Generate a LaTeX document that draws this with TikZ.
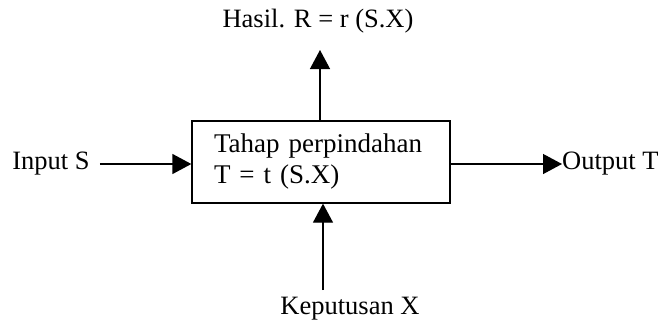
\documentclass[tikz,border=0pt]{standalone}
\usepackage{fontspec}
\setmainfont{Liberation Serif}
\usetikzlibrary{arrows.meta}
\begin{document}
\begin{tikzpicture}[x=1pt,y=-1pt,
  lbl/.style={font=\fontsize{26.5}{30}\selectfont, inner sep=0pt},
  conn/.style={line width=1.3pt, -{Triangle[length=19pt,width=20pt]}},
  procbox/.style={draw, line width=1.3pt, minimum width=258pt, minimum height=82pt,
    text width=214pt, align=left, inner xsep=22pt, font=\fontsize{27}{31}\selectfont}]
\useasboundingbox (0,0) rectangle (663,327);
\node[procbox] (box) at (321,162) {Tahap perpindahan\\T = t (S.X)};
\node[lbl] (hasil) at (318,21) {Hasil. R = r (S.X)};
\node[lbl] (input) at (51,164) {Input S};
\node[lbl, anchor=west] (output) at (562,164) {Output T};
\node[lbl] (kep) at (350,309) {Keputusan X};
\coordinate (kb) at (323,290);
\coordinate (ht) at (320,50);
\draw[conn] (box.north -| ht) -- (ht);
\draw[conn] ([xshift=10pt]input.east) -- (box.west |- input.east);
\draw[conn] (box.east |- output.west) -- (output.west);
\draw[conn] (kb) -- (kb |- box.south);
\end{tikzpicture}
\end{document}
